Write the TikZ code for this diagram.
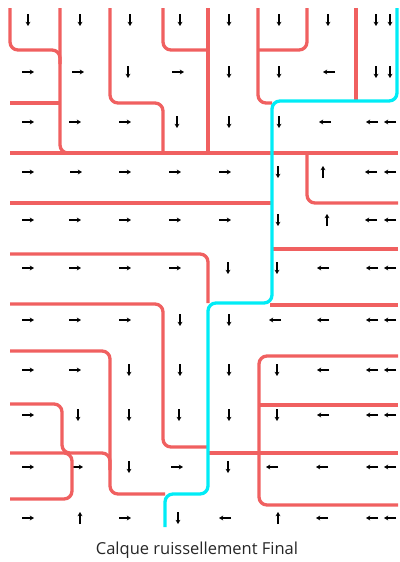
\documentclass[tikz,border=0pt]{standalone}
\usepackage{fontspec}
\setmainfont{Open Sans}
\usetikzlibrary{arrows.meta}
\definecolor{rline}{RGB}{240,96,96}
\definecolor{cline}{RGB}{0,236,246}
\begin{document}
\begin{tikzpicture}[x=1pt,y=-1pt,
  redline/.style={draw=rline,line width=3.3pt,rounded corners=8pt},
  cyanline/.style={draw=cline,line width=3.3pt,rounded corners=8pt},
  flow/.style={draw=black,line width=1.3pt,-{Stealth[length=4.2pt,width=4.8pt]}}]
\useasboundingbox (0,0) rectangle (399,562);
% flow arrows
\foreach \x/\y in {28/20,80/20,130/20,180/20,229/20,279/20,328/20,376/20,390/20,
  128/72,229/72,279/72,376/72,390/72,
  177/122,229/122,279/122,
  278/172, 278/220, 228/268,277/268,
  180/320,229/320,
  129/370,180/370,229/370,277/370,
  78/415,129/415,179/415,229/415,277/415,
  129/467,228/467, 178/518}
  \draw[flow] (\x,\y-6) -- (\x,\y+6);
\foreach \x/\y in {323/172,327/220,80/518,278/518}
  \draw[flow] (\x,\y+6) -- (\x,\y-6);
\foreach \x/\y in {28/72,78/72,178/72,
  28/122,75/122,125/122,
  28/172,76/172,125/172,175/172,225/172,
  28/220,75/220,125/220,175/220,225/220,
  28/268,75/268,125/268,175/268,
  28/320,75/320,125/320,
  28/370,75/370, 28/415,
  28/467,77/467,177/467,
  28/518,125/518}
  \draw[flow] (\x-6,\y) -- (\x+6,\y);
\foreach \x/\y in {329/72,
  325/122,372/122,390/122,
  371/172,390/172, 371/220,390/220,
  323/268,372/268,390/268,
  275/320,323/320,372/320,390/320,
  323/370,372/370,390/370,
  323/415,372/415,390/415,
  272/467,322/467,372/467,390/467,
  225/518,322/518,372/518,390/518}
  \draw[flow] (\x+6,\y) -- (\x-6,\y);
% red boundaries
\draw[redline] (10,8) -- (10,50) -- (60,50) -- (60,64);
\draw[redline] (60,8) -- (60,153) -- (80,153);
\draw[redline] (10,103) -- (60,103);
\draw[redline] (10,153) -- (398,153);
\draw[redline] (110,8) -- (110,103) -- (163,103) -- (163,153);
\draw[redline] (163,8) -- (163,50) -- (208,50);
\draw[redline] (208,8) -- (208,153);
\draw[redline] (258,8) -- (258,103) -- (272,103);
\draw[redline] (307,8) -- (307,50) -- (258,50);
\draw[redline] (356,8) -- (356,101);
\draw[redline] (307,153) -- (307,203) -- (398,203);
\draw[redline] (10,203) -- (272,203);
\draw[redline] (272,249) -- (398,249);
\draw[redline] (10,254) -- (208,254) -- (208,303);
\draw[redline] (270,305) -- (398,305);
\draw[redline] (10,304) -- (163,304) -- (163,447) -- (208,447);
\draw[redline] (10,351) -- (110,351) -- (110,494) -- (165,494);
\draw[redline] (10,404) -- (62,404) -- (62,453) -- (110,453) -- (110,470);
\draw[redline] (10,453) -- (72,453) -- (72,499) -- (10,499);
\draw[redline] (208,453) -- (398,453);
\draw[redline] (398,356) -- (259,356) -- (259,505) -- (398,505);
\draw[redline] (259,405) -- (398,405);
% cyan flow path
\draw[cyanline] (397,8) -- (397,101) -- (272,101) -- (272,303) -- (208,303) -- (208,494) -- (165,494) -- (165,527);
% caption
\node[font=\fontsize{16.5}{19}\selectfont,text=black!85] (cap) at (197,550) {Calque ruissellement Final};
\end{tikzpicture}
\end{document}
